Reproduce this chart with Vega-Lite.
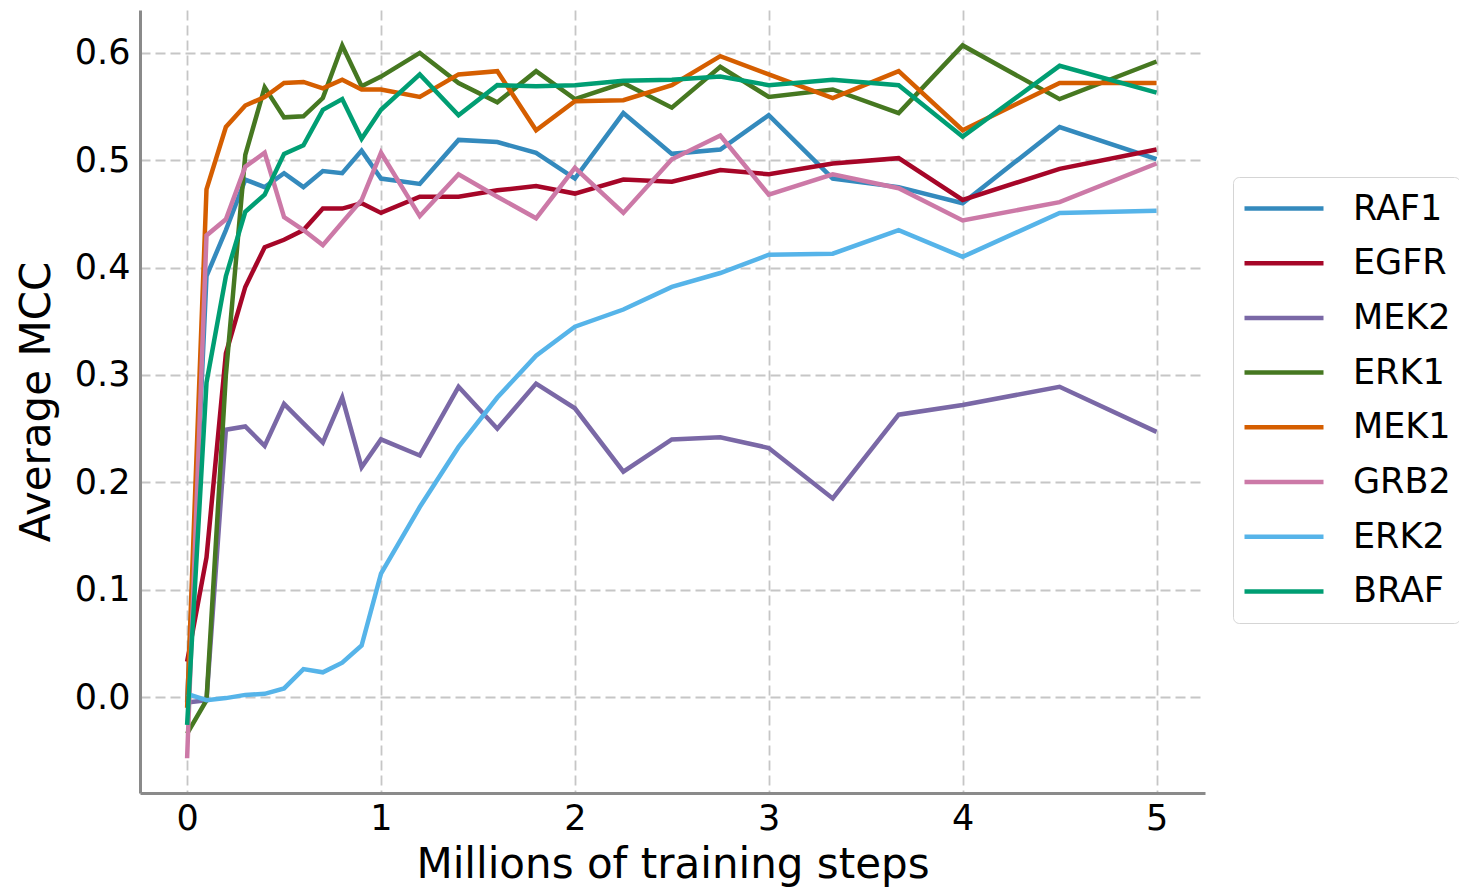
{
  "$schema": "https://vega.github.io/schema/vega-lite/v6.json",
  "autosize": {"type": "none"},
  "padding": {"left": 140, "top": 10, "right": 254, "bottom": 96},
  "width": 1065,
  "height": 783,
  "background": "white",
  "config": {
    "view": {"stroke": null},
    "font": "DejaVu Sans",
    "axis": {
      "domainColor": "#8a8a8a",
      "domainWidth": 3,
      "gridColor": "#c6c6c6",
      "gridDash": [10, 5],
      "gridWidth": 1.8,
      "labelFontSize": 35,
      "labelColor": "black",
      "titleFontSize": 42,
      "titleFontWeight": "normal",
      "titleColor": "black",
      "ticks": false,
      "labelPadding": 10
    },
    "legend": {
      "symbolType": "stroke",
      "symbolStrokeWidth": 4.5,
      "symbolSize": 6241,
      "labelFontSize": 35,
      "labelColor": "black",
      "labelOffset": 27,
      "padding": 9,
      "clipHeight": 45,
      "rowPadding": 9.7,
      "strokeColor": "#d5d5d5",
      "cornerRadius": 6,
      "fillColor": "white"
    }
  },
  "data": {
    "values": [
      {"s":"RAF1","x":0,"y":-0.005},{"s":"RAF1","x":0.1,"y":0.392},{"s":"RAF1","x":0.2,"y":0.435},{"s":"RAF1","x":0.3,"y":0.482},{"s":"RAF1","x":0.4,"y":0.475},{"s":"RAF1","x":0.5,"y":0.488},{"s":"RAF1","x":0.6,"y":0.475},{"s":"RAF1","x":0.7,"y":0.49},{"s":"RAF1","x":0.8,"y":0.488},{"s":"RAF1","x":0.9,"y":0.509},{"s":"RAF1","x":1.0,"y":0.483},{"s":"RAF1","x":1.2,"y":0.478},{"s":"RAF1","x":1.4,"y":0.519},{"s":"RAF1","x":1.6,"y":0.517},{"s":"RAF1","x":1.8,"y":0.507},{"s":"RAF1","x":2.0,"y":0.483},{"s":"RAF1","x":2.25,"y":0.544},{"s":"RAF1","x":2.5,"y":0.506},{"s":"RAF1","x":2.75,"y":0.51},{"s":"RAF1","x":3.0,"y":0.542},{"s":"RAF1","x":3.33,"y":0.483},{"s":"RAF1","x":3.67,"y":0.475},{"s":"RAF1","x":4.0,"y":0.46},{"s":"RAF1","x":4.5,"y":0.531},{"s":"RAF1","x":5.0,"y":0.501},
      {"s":"EGFR","x":0,"y":0.033},{"s":"EGFR","x":0.1,"y":0.13},{"s":"EGFR","x":0.2,"y":0.32},{"s":"EGFR","x":0.3,"y":0.382},{"s":"EGFR","x":0.4,"y":0.419},{"s":"EGFR","x":0.5,"y":0.426},{"s":"EGFR","x":0.6,"y":0.435},{"s":"EGFR","x":0.7,"y":0.455},{"s":"EGFR","x":0.8,"y":0.455},{"s":"EGFR","x":0.9,"y":0.46},{"s":"EGFR","x":1.0,"y":0.451},{"s":"EGFR","x":1.2,"y":0.466},{"s":"EGFR","x":1.4,"y":0.466},{"s":"EGFR","x":1.6,"y":0.472},{"s":"EGFR","x":1.8,"y":0.476},{"s":"EGFR","x":2.0,"y":0.469},{"s":"EGFR","x":2.25,"y":0.482},{"s":"EGFR","x":2.5,"y":0.48},{"s":"EGFR","x":2.75,"y":0.491},{"s":"EGFR","x":3.0,"y":0.487},{"s":"EGFR","x":3.33,"y":0.497},{"s":"EGFR","x":3.67,"y":0.502},{"s":"EGFR","x":4.0,"y":0.463},{"s":"EGFR","x":4.5,"y":0.492},{"s":"EGFR","x":5.0,"y":0.51},
      {"s":"MEK2","x":0,"y":-0.005},{"s":"MEK2","x":0.1,"y":-0.003},{"s":"MEK2","x":0.2,"y":0.249},{"s":"MEK2","x":0.3,"y":0.252},{"s":"MEK2","x":0.4,"y":0.234},{"s":"MEK2","x":0.5,"y":0.273},{"s":"MEK2","x":0.6,"y":0.255},{"s":"MEK2","x":0.7,"y":0.237},{"s":"MEK2","x":0.8,"y":0.279},{"s":"MEK2","x":0.9,"y":0.214},{"s":"MEK2","x":1.0,"y":0.24},{"s":"MEK2","x":1.2,"y":0.225},{"s":"MEK2","x":1.4,"y":0.289},{"s":"MEK2","x":1.6,"y":0.25},{"s":"MEK2","x":1.8,"y":0.292},{"s":"MEK2","x":2.0,"y":0.269},{"s":"MEK2","x":2.25,"y":0.21},{"s":"MEK2","x":2.5,"y":0.24},{"s":"MEK2","x":2.75,"y":0.242},{"s":"MEK2","x":3.0,"y":0.232},{"s":"MEK2","x":3.33,"y":0.185},{"s":"MEK2","x":3.67,"y":0.263},{"s":"MEK2","x":4.0,"y":0.272},{"s":"MEK2","x":4.5,"y":0.289},{"s":"MEK2","x":5.0,"y":0.247},
      {"s":"ERK1","x":0,"y":-0.034},{"s":"ERK1","x":0.1,"y":-0.003},{"s":"ERK1","x":0.2,"y":0.3},{"s":"ERK1","x":0.3,"y":0.505},{"s":"ERK1","x":0.4,"y":0.568},{"s":"ERK1","x":0.5,"y":0.54},{"s":"ERK1","x":0.6,"y":0.541},{"s":"ERK1","x":0.7,"y":0.558},{"s":"ERK1","x":0.8,"y":0.607},{"s":"ERK1","x":0.9,"y":0.569},{"s":"ERK1","x":1.0,"y":0.578},{"s":"ERK1","x":1.2,"y":0.6},{"s":"ERK1","x":1.4,"y":0.572},{"s":"ERK1","x":1.6,"y":0.554},{"s":"ERK1","x":1.8,"y":0.583},{"s":"ERK1","x":2.0,"y":0.557},{"s":"ERK1","x":2.25,"y":0.572},{"s":"ERK1","x":2.5,"y":0.549},{"s":"ERK1","x":2.75,"y":0.587},{"s":"ERK1","x":3.0,"y":0.559},{"s":"ERK1","x":3.33,"y":0.566},{"s":"ERK1","x":3.67,"y":0.544},{"s":"ERK1","x":4.0,"y":0.607},{"s":"ERK1","x":4.5,"y":0.557},{"s":"ERK1","x":5.0,"y":0.592},
      {"s":"MEK1","x":0,"y":-0.01},{"s":"MEK1","x":0.1,"y":0.473},{"s":"MEK1","x":0.2,"y":0.531},{"s":"MEK1","x":0.3,"y":0.551},{"s":"MEK1","x":0.4,"y":0.559},{"s":"MEK1","x":0.5,"y":0.572},{"s":"MEK1","x":0.6,"y":0.573},{"s":"MEK1","x":0.7,"y":0.567},{"s":"MEK1","x":0.8,"y":0.575},{"s":"MEK1","x":0.9,"y":0.566},{"s":"MEK1","x":1.0,"y":0.566},{"s":"MEK1","x":1.2,"y":0.559},{"s":"MEK1","x":1.4,"y":0.58},{"s":"MEK1","x":1.6,"y":0.583},{"s":"MEK1","x":1.8,"y":0.528},{"s":"MEK1","x":2.0,"y":0.555},{"s":"MEK1","x":2.25,"y":0.556},{"s":"MEK1","x":2.5,"y":0.57},{"s":"MEK1","x":2.75,"y":0.597},{"s":"MEK1","x":3.0,"y":0.58},{"s":"MEK1","x":3.33,"y":0.558},{"s":"MEK1","x":3.67,"y":0.583},{"s":"MEK1","x":4.0,"y":0.528},{"s":"MEK1","x":4.5,"y":0.572},{"s":"MEK1","x":5.0,"y":0.572},
      {"s":"GRB2","x":0,"y":-0.057},{"s":"GRB2","x":0.1,"y":0.43},{"s":"GRB2","x":0.2,"y":0.445},{"s":"GRB2","x":0.3,"y":0.494},{"s":"GRB2","x":0.4,"y":0.507},{"s":"GRB2","x":0.5,"y":0.447},{"s":"GRB2","x":0.6,"y":0.435},{"s":"GRB2","x":0.7,"y":0.421},{"s":"GRB2","x":0.8,"y":0.442},{"s":"GRB2","x":0.9,"y":0.463},{"s":"GRB2","x":1.0,"y":0.507},{"s":"GRB2","x":1.2,"y":0.448},{"s":"GRB2","x":1.4,"y":0.487},{"s":"GRB2","x":1.6,"y":0.466},{"s":"GRB2","x":1.8,"y":0.446},{"s":"GRB2","x":2.0,"y":0.493},{"s":"GRB2","x":2.25,"y":0.451},{"s":"GRB2","x":2.5,"y":0.501},{"s":"GRB2","x":2.75,"y":0.523},{"s":"GRB2","x":3.0,"y":0.468},{"s":"GRB2","x":3.33,"y":0.487},{"s":"GRB2","x":3.67,"y":0.474},{"s":"GRB2","x":4.0,"y":0.444},{"s":"GRB2","x":4.5,"y":0.461},{"s":"GRB2","x":5.0,"y":0.497},
      {"s":"ERK2","x":0,"y":0.003},{"s":"ERK2","x":0.1,"y":-0.003},{"s":"ERK2","x":0.2,"y":-0.001},{"s":"ERK2","x":0.3,"y":0.002},{"s":"ERK2","x":0.4,"y":0.003},{"s":"ERK2","x":0.5,"y":0.008},{"s":"ERK2","x":0.6,"y":0.026},{"s":"ERK2","x":0.7,"y":0.023},{"s":"ERK2","x":0.8,"y":0.032},{"s":"ERK2","x":0.9,"y":0.048},{"s":"ERK2","x":1.0,"y":0.115},{"s":"ERK2","x":1.2,"y":0.177},{"s":"ERK2","x":1.4,"y":0.233},{"s":"ERK2","x":1.6,"y":0.279},{"s":"ERK2","x":1.8,"y":0.318},{"s":"ERK2","x":2.0,"y":0.345},{"s":"ERK2","x":2.25,"y":0.361},{"s":"ERK2","x":2.5,"y":0.382},{"s":"ERK2","x":2.75,"y":0.395},{"s":"ERK2","x":3.0,"y":0.412},{"s":"ERK2","x":3.33,"y":0.413},{"s":"ERK2","x":3.67,"y":0.435},{"s":"ERK2","x":4.0,"y":0.41},{"s":"ERK2","x":4.5,"y":0.451},{"s":"ERK2","x":5.0,"y":0.453},
      {"s":"BRAF","x":0,"y":-0.026},{"s":"BRAF","x":0.1,"y":0.293},{"s":"BRAF","x":0.2,"y":0.392},{"s":"BRAF","x":0.3,"y":0.452},{"s":"BRAF","x":0.4,"y":0.468},{"s":"BRAF","x":0.5,"y":0.506},{"s":"BRAF","x":0.6,"y":0.514},{"s":"BRAF","x":0.7,"y":0.547},{"s":"BRAF","x":0.8,"y":0.557},{"s":"BRAF","x":0.9,"y":0.52},{"s":"BRAF","x":1.0,"y":0.547},{"s":"BRAF","x":1.2,"y":0.58},{"s":"BRAF","x":1.4,"y":0.542},{"s":"BRAF","x":1.6,"y":0.57},{"s":"BRAF","x":1.8,"y":0.569},{"s":"BRAF","x":2.0,"y":0.57},{"s":"BRAF","x":2.25,"y":0.574},{"s":"BRAF","x":2.5,"y":0.575},{"s":"BRAF","x":2.75,"y":0.578},{"s":"BRAF","x":3.0,"y":0.57},{"s":"BRAF","x":3.33,"y":0.575},{"s":"BRAF","x":3.67,"y":0.57},{"s":"BRAF","x":4.0,"y":0.522},{"s":"BRAF","x":4.5,"y":0.588},{"s":"BRAF","x":5.0,"y":0.563}
    ]
  },
  "mark": {"type": "line", "strokeWidth": 4.5},
  "encoding": {
    "x": {
      "field": "x", "type": "quantitative",
      "scale": {"domain": [-0.243, 5.25], "nice": false, "zero": false},
      "axis": {"title": "Millions of training steps", "values": [0, 1, 2, 3, 4, 5], "format": "d", "labelPadding": 8, "titlePadding": 8}
    },
    "y": {
      "field": "y", "type": "quantitative",
      "scale": {"domain": [-0.0894, 0.64], "nice": false, "zero": false},
      "axis": {"title": "Average MCC", "values": [0, 0.1, 0.2, 0.3, 0.4, 0.5, 0.6], "format": ".1f", "titlePadding": 16}
    },
    "color": {
      "field": "s", "type": "nominal",
      "scale": {
        "domain": ["RAF1", "EGFR", "MEK2", "ERK1", "MEK1", "GRB2", "ERK2", "BRAF"],
        "range": ["#348ABD", "#A60628", "#7A68A6", "#467821", "#D55E00", "#CC79A7", "#56B4E9", "#009E73"]
      },
      "legend": {"title": null, "orient": "none", "legendX": 1093, "legendY": 167}
    }
  }
}
